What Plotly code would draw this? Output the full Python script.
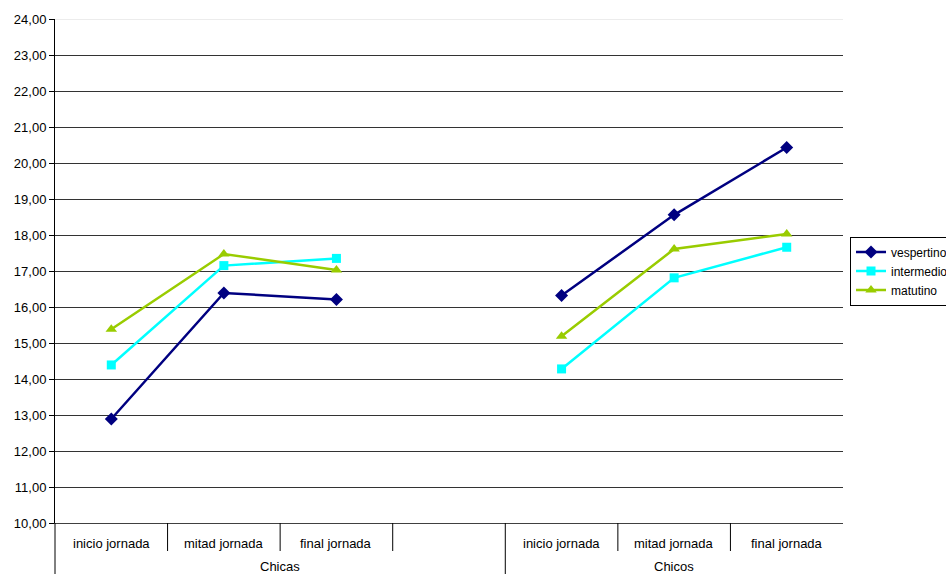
import plotly.graph_objects as go

# Category slots along the x axis (slot 4 is an empty spacer inside "Chicas")
slot_labels = ["inicio jornada", "mitad jornada", "final jornada", "",
               "inicio jornada", "mitad jornada", "final jornada"]
group_labels = ["Chicas", "Chicos"]
group_spans = [(1, 4), (5, 7)]  # first and last slot of each group

vespertino = [12.89, 16.39, 16.21, None, 16.32, 18.56, 20.43]
intermedio = [14.39, 17.15, 17.35, None, 14.28, 16.81, 17.66]
matutino = [15.38, 17.47, 17.03, None, 15.19, 17.61, 18.03]

series = [
    ("vespertino", vespertino, "#000080", "diamond", 10),
    ("intermedio", intermedio, "#00FFFF", "square", 9),
    ("matutino", matutino, "#99CC00", "triangle-up", 10),
]

FONT = "Liberation Sans, Arial, sans-serif"
x_slots = list(range(1, len(slot_labels) + 1))

fig = go.Figure()
for name, vals, color, symbol, msize in series:
    fig.add_trace(go.Scatter(
        x=x_slots, y=vals, name=name, mode="lines+markers",
        connectgaps=False,
        line=dict(color=color, width=2.5),
        marker=dict(symbol=symbol, size=msize, color=color),
    ))

plot_h = 504.0
shapes = []
# lighter top border line at the upper end of the value axis
shapes.append(dict(type="line", xref="paper", yref="y", x0=0, x1=1, y0=24, y1=24,
                   line=dict(color="#d9d9d9", width=1), layer="above"))
# dividers between category slots below the axis
for i in range(1, len(slot_labels)):
    edge = i + 0.5
    tall = any(edge == s - 0.5 for s, _ in group_spans)
    depth = 51 if tall else 28
    shapes.append(dict(type="line", xref="x", yref="paper", x0=edge, x1=edge,
                       y0=0, y1=-depth / plot_h,
                       line=dict(color="#000000", width=1)))
# left axis line continues down through the label rows
shapes.append(dict(type="line", xref="paper", yref="paper", x0=0, x1=0,
                   y0=0, y1=-51 / plot_h, line=dict(color="#000000", width=1)))

annotations = []
for xv, lab in zip(x_slots, slot_labels):
    if lab:
        annotations.append(dict(x=xv, y=0, xref="x", yref="paper", text=lab,
                                showarrow=False, yanchor="middle", yshift=-20,
                                font=dict(family=FONT, size=13, color="#000000")))
for lab, (a, b) in zip(group_labels, group_spans):
    annotations.append(dict(x=(a - 0.5 + b + 0.5) / 2, y=0, xref="x", yref="paper",
                            text=lab, showarrow=False, yanchor="middle", yshift=-43,
                            font=dict(family=FONT, size=13, color="#000000")))

fig.update_layout(
    width=946, height=574,
    margin=dict(l=55, r=103, t=19, b=51, autoexpand=False),
    paper_bgcolor="white", plot_bgcolor="white",
    separators=",.",
    font=dict(family=FONT, size=13, color="#000000"),
    showlegend=True,
    legend=dict(x=1.0089, xanchor="left", y=0.5, yanchor="middle",
                bordercolor="#000000", borderwidth=1, bgcolor="white",
                font=dict(family=FONT, size=12, color="#000000"),
                tracegroupgap=0),
    shapes=shapes,
    annotations=annotations,
    xaxis=dict(range=[0.5, 7.5], showgrid=False, zeroline=False,
               showticklabels=False, ticks="", showline=True,
               linecolor="#404040", linewidth=1),
    yaxis=dict(range=[10, 24], dtick=1, tick0=10, tickformat=".2f",
               showgrid=True, gridcolor="#333333", gridwidth=1, zeroline=False,
               ticks="outside", ticklen=5, tickcolor="#000000",
               showline=True, linecolor="#000000", linewidth=1,
               tickfont=dict(family=FONT, size=13, color="#000000")),
)

fig.write_html("out.html")
